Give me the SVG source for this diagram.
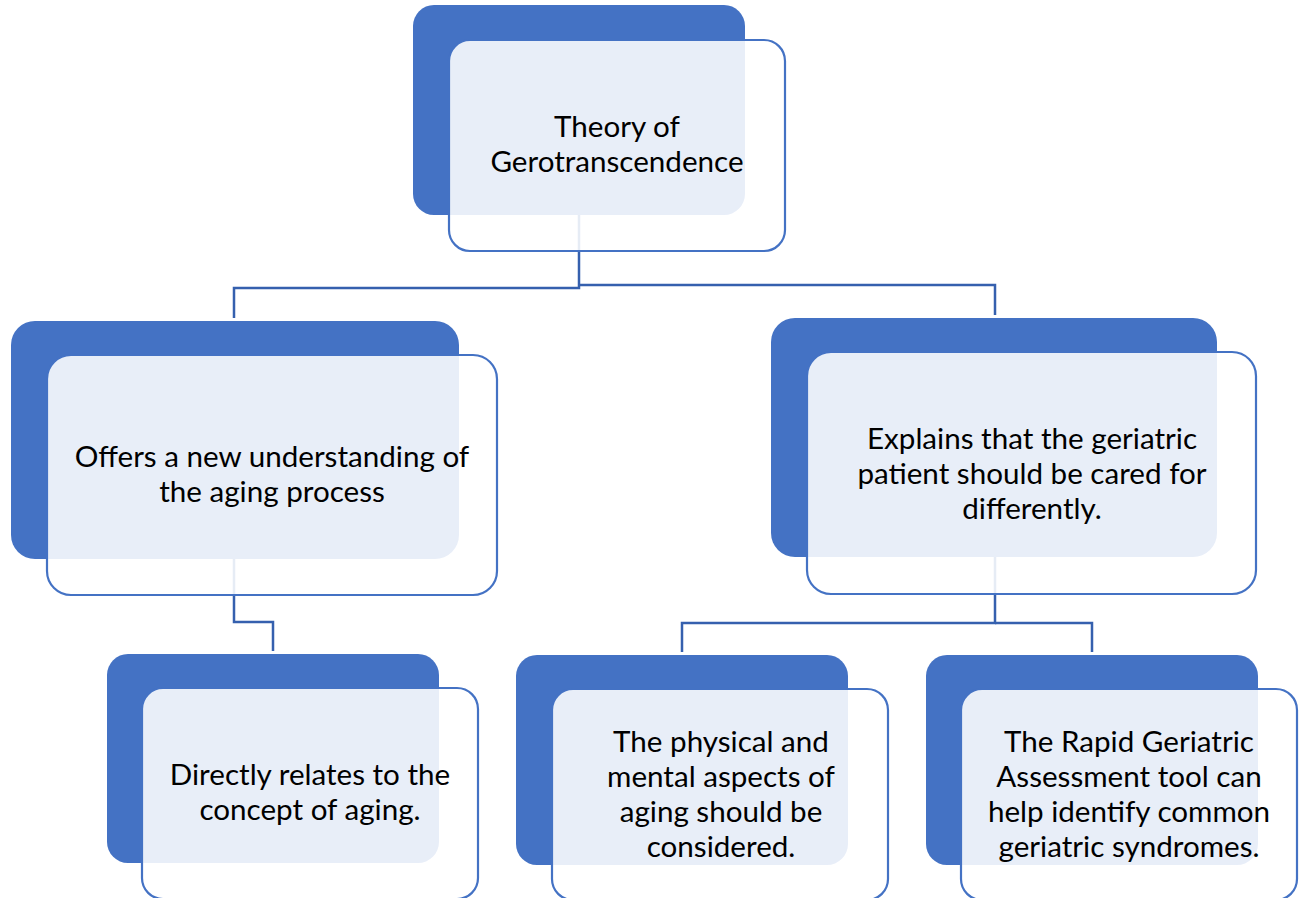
<svg xmlns="http://www.w3.org/2000/svg" width="1301" height="898" viewBox="0 0 1301 898">
<style>
.back{fill:#4472C4;}
.front{fill:#FFFFFF;fill-opacity:0.88;stroke:#4472C4;stroke-width:2.2;}
.conn{fill:none;stroke:#3560AE;stroke-width:2.5;}
text{font-family:Lato,"Open Sans","Liberation Sans",sans-serif;font-size:29.6px;fill:#000000;text-anchor:middle;}
</style>
<rect width="1301" height="898" fill="#FFFFFF"/>
<g id="connectors">
<polyline class="conn" points="579,215 579,288 234,288 234,318"/>
<polyline class="conn" points="579,285 995,285 995,315"/>
<polyline class="conn" points="234,559 234,622 273,622 273,651"/>
<polyline class="conn" points="995,557 995,623 682,623 682,652"/>
<polyline class="conn" points="995,623 1092,623 1092,652"/>
</g>
<g id="node-theory">
<rect class="back" x="413" y="5" width="332" height="210" rx="21"/>
<rect class="front" x="449" y="40" width="336" height="211" rx="21"/>
<text x="617" y="137">Theory of</text>
<text x="617" y="172">Gerotranscendence</text>
</g>
<g id="node-offers">
<rect class="back" x="11" y="321" width="448" height="238" rx="24"/>
<rect class="front" x="47" y="355" width="450" height="240" rx="24"/>
<text x="272" y="467">Offers a new understanding of</text>
<text x="272" y="502">the aging process</text>
</g>
<g id="node-explains">
<rect class="back" x="771" y="318" width="446" height="239" rx="24"/>
<rect class="front" x="807" y="352" width="449" height="242" rx="24"/>
<text x="1032" y="449">Explains that the geriatric</text>
<text x="1032" y="484">patient should be cared for</text>
<text x="1032" y="519">differently.</text>
</g>
<g id="node-directly">
<rect class="back" x="107" y="654" width="332" height="209" rx="21"/>
<rect class="front" x="142" y="688" width="336" height="211" rx="21"/>
<text x="310" y="785">Directly relates to the</text>
<text x="310" y="820">concept of aging.</text>
</g>
<g id="node-physical">
<rect class="back" x="516" y="655" width="332" height="210" rx="21"/>
<rect class="front" x="552" y="689" width="336" height="211" rx="21"/>
<text x="721" y="752">The physical and</text>
<text x="721" y="787">mental aspects of</text>
<text x="721" y="822">aging should be</text>
<text x="721" y="857">considered.</text>
</g>
<g id="node-rapid">
<rect class="back" x="926" y="655" width="332" height="210" rx="21"/>
<rect class="front" x="961" y="689" width="336" height="211" rx="21"/>
<text x="1129" y="752">The Rapid Geriatric</text>
<text x="1129" y="787">Assessment tool can</text>
<text x="1129" y="822">help identify common</text>
<text x="1129" y="857">geriatric syndromes.</text>
</g>
</svg>
